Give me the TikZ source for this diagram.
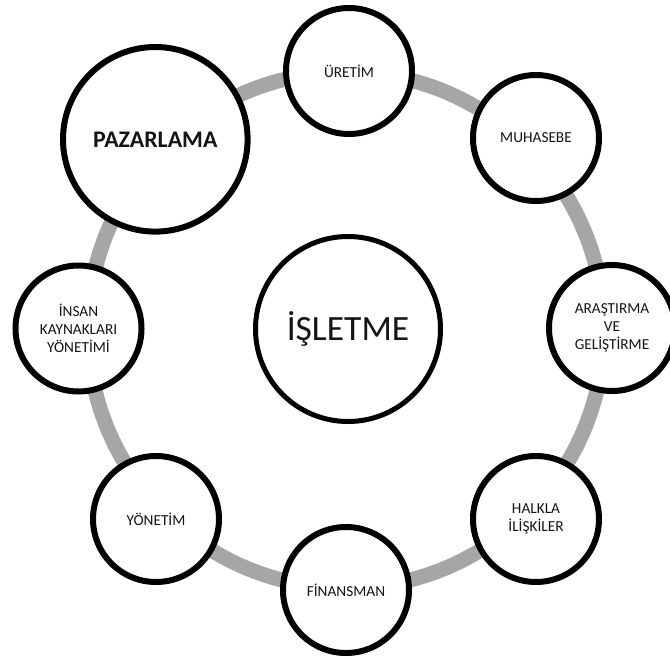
\documentclass[tikz,border=0pt]{standalone}
\usepackage{fontspec}
\setmainfont{Carlito}
\definecolor{ringgray}{RGB}{166,166,166}
\definecolor{txt}{RGB}{20,20,20}
\tikzset{
  ringline/.style={draw=ringgray, line width=15pt},
  smallc/.style={circle, draw=black, line width=6pt, fill=white, minimum size=126pt, inner sep=0pt, align=center, text=txt, font=\fontsize{15.3pt}{17.8pt}\selectfont},
  bigc/.style={circle, draw=black, line width=6pt, fill=white, minimum size=184.6pt, inner sep=0pt, align=center, text=txt, font=\fontsize{23.8pt}{28pt}\selectfont\bfseries},
  centerc/.style={circle, draw=black, line width=5pt, fill=white, minimum size=185pt, inner sep=0pt, align=center, text=txt, font=\fontsize{35.5pt}{42pt}\selectfont}
}
\begin{document}
\begin{tikzpicture}[x=1pt,y=-1pt]
\clip (0,0) rectangle (670,659);
\coordinate (rc) at (346,330);
\draw[ringline] (rc) circle (258);
\node[centerc] (isletme) at (348,329) {İŞLETME};
\node[smallc] (uretim) at (349,71) {ÜRETİM};
\node[smallc] (muhasebe) at (536,138) {MUHASEBE};
\node[smallc] (arastirma) at (612,328) {ARAŞTIRMA\\VE\\GELİŞTİRME};
\node[smallc] (halkla) at (536,519) {HALKLA\\İLİŞKİLER};
\node[smallc] (finansman) at (346,590) {FİNANSMAN};
\node[smallc] (yonetim) at (156,519) {YÖNETİM};
\node[smallc] (insan) at (78.5,328.5) {İNSAN\\KAYNAKLARI\\YÖNETİMİ};
\node[bigc] (pazarlama) at (155.3,139.3) {PAZARLAMA};
\end{tikzpicture}
\end{document}
